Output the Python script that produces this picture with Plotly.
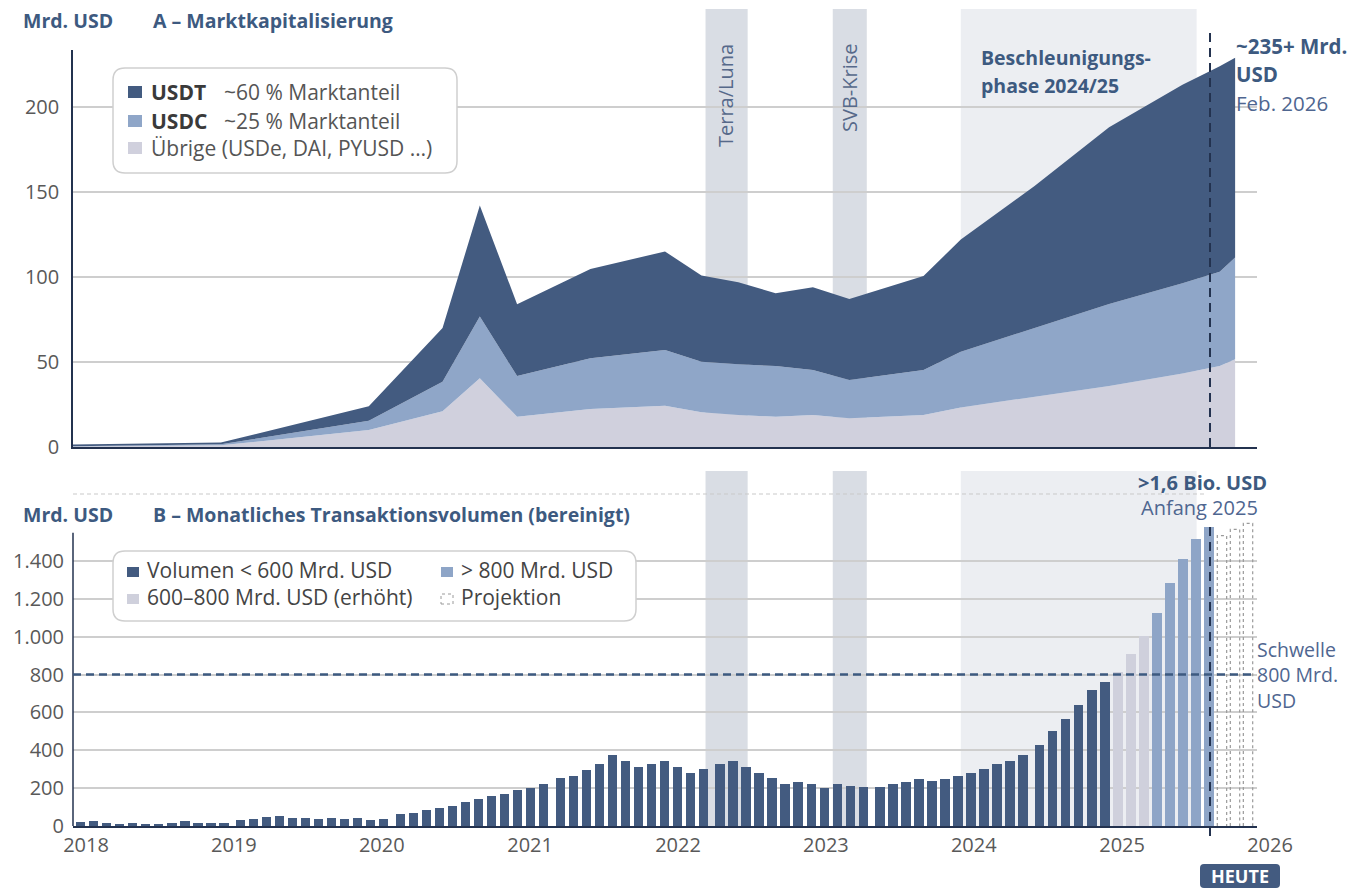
import plotly.graph_objects as go
import pandas as pd

W, H = 1365, 891


def px(x):
    return x / W


def py(y):
    return 1 - y / H


# ---------------- Daten Panel A: Marktkapitalisierung (Mrd. USD) ----------------
mk_datum = ["2018-01-01", "2019-01-01", "2020-01-01", "2020-07-01", "2020-10-01",
            "2021-01-01", "2021-07-01", "2022-01-01", "2022-04-01", "2022-07-01",
            "2022-10-01", "2023-01-01", "2023-04-01", "2023-10-01", "2024-01-01",
            "2024-07-01", "2025-01-01", "2025-07-01", "2025-10-01", "2025-11-08"]
usdt = [1.0, 1.0, 8.5, 31.6, 65.3, 42.2, 52.5, 58.0, 50.6, 48.3,
        42.8, 48.6, 47.6, 55.3, 66.0, 83.7, 103.9, 116.7, 120.9, 117.6]
usdc = [0.1, 0.6, 5.5, 17.4, 36.3, 24.0, 29.8, 32.7, 29.8, 29.8,
        29.8, 26.5, 22.5, 26.5, 32.7, 40.2, 48.2, 53.0, 55.5, 59.8]
uebrige = [0.3, 1.0, 10.0, 21.0, 40.4, 17.8, 22.4, 24.3, 20.4, 18.8,
           17.8, 18.8, 16.9, 18.8, 23.3, 29.6, 35.9, 43.3, 47.6, 51.6]

# ---------------- Daten Panel B: monatliches Volumen (Mrd. USD) ----------------
monate = pd.date_range("2018-01-01", "2025-05-01", freq="MS").strftime("%Y-%m").tolist()
volumen = [
    20, 25, 18, 12, 18, 12, 12, 18, 25, 18, 18, 18,                 # 2018
    32, 37, 46, 51, 44, 44, 37, 44, 37, 44, 32, 37,                 # 2019
    63, 70, 83, 95, 107, 127, 144, 157, 171, 188, 201, 220,         # 2020
    252, 264, 294, 326, 375, 343, 313, 326, 343, 313, 282, 300,     # 2021
    326, 343, 313, 282, 252, 220, 231, 220, 201, 220, 213, 206,     # 2022
    206, 220, 231, 250, 238, 250, 262, 282, 300, 326, 343, 375,     # 2023
    426, 502, 564, 638, 720, 762, 812, 907, 1004, 1127, 1282, 1409,  # 2024
    1515, 1578, 1534, 1567, 1599,                                   # 2025
]
kategorie = (["niedrig"] * 78 + ["erhoeht"] * 3 + ["hoch"] * 5 + ["projektion"] * 3)

y_ticks_a = [0, 50, 100, 150, 200]
y_ticks_b = [0, 200, 400, 600, 800, 1000, 1200, 1400]
jahre = [2018, 2019, 2020, 2021, 2022, 2023, 2024, 2025, 2026]

ereignis_start = ["2022-04-11", "2023-02-19", "2024-01-01"]
ereignis_ende = ["2022-07-24", "2023-05-14", "2025-08-05"]
heute = "2025-09-07"
schwelle = 800

# ---------------- Stil ----------------
C_USDT = "#435b80"
C_USDC = "#8fa6c8"
C_OTHER = "#d0d0dd"
C_LIGHT = "#cfd0dc"
C_BLUE = "#8ea5c7"
AX = "#23324f"
T_BLUE = "#3d5a80"
T_SLATE = "#56698a"
GRID = "#cecece"
TICK = "#595959"
FONT = "Open Sans"
BAND_DARK = "#d9dde4"
BAND_LIGHT = "#eceef2"

fig = go.Figure()

# Panel A: gestapelte Flächen
for name, vals, col in [("Übrige", uebrige, C_OTHER), ("USDC", usdc, C_USDC), ("USDT", usdt, C_USDT)]:
    fig.add_trace(go.Scatter(x=mk_datum, y=vals, name=name, stackgroup="mk", mode="lines",
                             line=dict(width=0), fillcolor=col, xaxis="x", yaxis="y",
                             showlegend=False, hoverinfo="x+y+name"))

# Panel B: Balken auf eigener Index-Achse (mit kleinen Jahreslücken)
GAP = 0.28
BW = 0.72
pos = [i + GAP * min(int(m[:4]) - 2018, 6) for i, m in enumerate(monate)]

for cat, col, name in [("niedrig", C_USDT, "Volumen < 600 Mrd. USD"),
                       ("erhoeht", C_LIGHT, "600–800 Mrd. USD (erhöht)"),
                       ("hoch", C_BLUE, "> 800 Mrd. USD")]:
    idx = [i for i, k in enumerate(kategorie) if k == cat]
    fig.add_trace(go.Bar(x=[pos[i] for i in idx], y=[volumen[i] for i in idx],
                         customdata=[monate[i] for i in idx], name=name,
                         width=BW, marker=dict(color=col, line=dict(width=0)),
                         xaxis="x3", yaxis="y2", showlegend=False,
                         hovertemplate="%{customdata}: %{y}<extra></extra>"))

# Projektion: gestrichelte Umrisse
px_, py_ = [], []
for i, k in enumerate(kategorie):
    if k == "projektion":
        a, b = pos[i] - BW / 2, pos[i] + BW / 2
        px_ += [a, a, b, b, None]
        py_ += [0, volumen[i], volumen[i], 0, None]
fig.add_trace(go.Scatter(x=px_, y=py_, mode="lines", name="Projektion",
                         line=dict(color="#9a9a9a", width=1.2, dash="dot"),
                         xaxis="x3", yaxis="y2", showlegend=False, hoverinfo="skip"))

# ---------------- Shapes ----------------
shapes = []
band_cols = [BAND_DARK, BAND_DARK, BAND_LIGHT]
for s, e, c in zip(ereignis_start, ereignis_ende, band_cols):
    shapes.append(dict(type="rect", xref="x", yref="paper", x0=s, x1=e, y0=py(447), y1=py(9),
                       fillcolor=c, line=dict(width=0), layer="below"))
    shapes.append(dict(type="rect", xref="x2", yref="paper", x0=s, x1=e, y0=py(826), y1=py(471),
                       fillcolor=c, line=dict(width=0), layer="below"))

# separator
shapes.append(dict(type="line", xref="paper", yref="paper", x0=px(73), x1=px(1205), y0=py(494), y1=py(494),
                   line=dict(color="#c9c9c9", width=1, dash="4px,3px"), layer="below"))

# y axis line panel B
shapes.append(dict(type="line", xref="x2 domain", yref="y2", x0=0, x1=0, y0=0, y1=1549,
                   line=dict(color=AX, width=1.5), layer="above"))

# Schwelle
shapes.append(dict(type="line", xref="x2 domain", yref="y2", x0=0, x1=0.995, y0=schwelle, y1=schwelle,
                   line=dict(color=T_BLUE, width=2.5, dash="8px,5px"), layer="above"))

# HEUTE-Linien
shapes.append(dict(type="line", xref="x", yref="paper", x0=heute, x1=heute, y0=py(447), y1=py(33),
                   line=dict(color=AX, width=2, dash="9px,6px"), layer="above"))
shapes.append(dict(type="line", xref="x2", yref="paper", x0=heute, x1=heute, y0=py(836), y1=py(527),
                   line=dict(color=AX, width=2, dash="9px,6px"), layer="above"))


def rrect(x0, y0, x1, y1, r):
    return (f"M {px(x0 + r)},{py(y0)} L {px(x1 - r)},{py(y0)} Q {px(x1)},{py(y0)} {px(x1)},{py(y0 + r)} "
            f"L {px(x1)},{py(y1 - r)} Q {px(x1)},{py(y1)} {px(x1 - r)},{py(y1)} "
            f"L {px(x0 + r)},{py(y1)} Q {px(x0)},{py(y1)} {px(x0)},{py(y1 - r)} "
            f"L {px(x0)},{py(y0 + r)} Q {px(x0)},{py(y0)} {px(x0 + r)},{py(y0)} Z")


# Legend A box
shapes.append(dict(type="path", xref="paper", yref="paper", path=rrect(113, 68, 457, 173, 12),
                   fillcolor="white", line=dict(color="#cfcfcf", width=1.5), layer="above"))
for yc, col in [(92, C_USDT), (121, C_USDC), (148, C_OTHER)]:
    shapes.append(dict(type="rect", xref="paper", yref="paper", x0=px(128), x1=px(142),
                       y0=py(yc + 6), y1=py(yc - 6), fillcolor=col, line=dict(width=0), layer="above"))

# Legend B box
shapes.append(dict(type="path", xref="paper", yref="paper", path=rrect(113, 551, 636, 621, 12),
                   fillcolor="white", line=dict(color="#cfcfcf", width=1.5), layer="above"))
for x0, yc, col in [(127, 572, C_USDT), (127, 599, C_LIGHT), (441, 572, C_BLUE)]:
    shapes.append(dict(type="rect", xref="paper", yref="paper", x0=px(x0), x1=px(x0 + 12),
                       y0=py(yc + 5), y1=py(yc - 5), fillcolor=col, line=dict(width=0), layer="above"))
shapes.append(dict(type="rect", xref="paper", yref="paper", x0=px(441), x1=px(453),
                   y0=py(604), y1=py(594), fillcolor="white",
                   line=dict(color="#9a9a9a", width=1, dash="dot"), layer="above"))

# HEUTE box
shapes.append(dict(type="path", xref="paper", yref="paper", path=rrect(1200, 864, 1280, 888, 4),
                   fillcolor=C_USDT, line=dict(width=0), layer="above"))

# ---------------- Annotations ----------------
ann = []


def txt(x, y, t, size=20, color=T_BLUE, xanchor="left", angle=0, bold=False):
    ann.append(dict(x=px(x), y=py(y), xref="paper", yref="paper", text=(f"<b>{t}</b>" if bold else t),
                    showarrow=False, xanchor=xanchor, yanchor="middle", textangle=angle, align="left",
                    font=dict(family=FONT, size=size, color=color)))


txt(21, 20, "Mrd. USD", 19.5, T_BLUE, bold=True)
txt(151, 20, "A – Marktkapitalisierung", 19.5, T_BLUE, bold=True)
txt(21, 514, "Mrd. USD", 19.5, T_BLUE, bold=True)
txt(151, 514, "B – Monatliches Transaktionsvolumen (bereinigt)", 19.5, T_BLUE, bold=True)

# Legend A
txt(149, 92, "USDT", 21, "#3a3a3a", bold=True)
txt(222, 92, "~60 % Marktanteil", 21, "#555555")
txt(149, 121, "USDC", 21, "#3a3a3a", bold=True)
txt(222, 121, "~25 % Marktanteil", 21, "#555555")
txt(149, 148, "Übrige (USDe, DAI, PYUSD …)", 21, "#555555")

# Legend B
txt(145, 570, "Volumen &lt; 600 Mrd. USD", 21, "#444444")
txt(145, 597, "600–800 Mrd. USD (erhöht)", 21, "#444444")
txt(459, 570, "&gt; 800 Mrd. USD", 21, "#444444")
txt(459, 597, "Projektion", 21, "#444444")

# Ereignisse
txt(726, 96, "Terra/Luna", 20, T_SLATE, xanchor="center", angle=-90)
txt(849, 88, "SVB-Krise", 20, T_SLATE, xanchor="center", angle=-90)
txt(979, 57, "Beschleunigungs-", 19.5, T_BLUE, bold=True)
txt(979, 85, "phase 2024/25", 19.5, T_BLUE, bold=True)

# rechts oben
txt(1234, 46, "~235+ Mrd.", 20.5, T_BLUE, bold=True)
txt(1234, 74, "USD", 20.5, T_BLUE, bold=True)
txt(1234, 103, "Feb. 2026", 20.5, "#4f6690")

# Panel B Hinweise
txt(1202, 482, "&gt;1,6 Bio. USD", 20, T_BLUE, xanchor="center", bold=True)
txt(1199, 508, "Anfang 2025", 20, "#4f6690", xanchor="center")
txt(1255, 675, "Schwelle<br>800 Mrd.<br>USD", 19.5, "#4f6690")
txt(1240, 876, "HEUTE", 18, "white", xanchor="center", bold=True)

tickfont = dict(family=FONT, size=20, color=TICK)

fig.update_layout(
    width=W, height=H, margin=dict(l=0, r=0, t=0, b=0, autoexpand=False),
    paper_bgcolor="white", plot_bgcolor="white",
    separators=",.", showlegend=False, bargap=0,
    font=dict(family=FONT),
    xaxis=dict(domain=[px(73), px(1257)], anchor="y", type="date", automargin=False,
               range=["2018-01-01", "2026-01-01"], showticklabels=False, showgrid=False,
               zeroline=False, showline=True, linecolor=AX, linewidth=2, ticks=""),
    yaxis=dict(domain=[py(447), py(50)], anchor="x", range=[0, 233.5], tickvals=y_ticks_a,
               automargin=False,
               showgrid=True, gridcolor=GRID, gridwidth=1.5, zeroline=False,
               showline=True, linecolor=AX, linewidth=1.5, tickfont=tickfont,
               ticks="", ticklabelstandoff=8),
    xaxis2=dict(domain=[px(73), px(1257)], anchor="y2", type="date", automargin=False,
                range=["2018-01-01", "2026-01-01"],
                tickvals=[f"{j}-01-01" for j in jahre], ticktext=[str(j) for j in jahre],
                ticklabelshift=13, showgrid=False, zeroline=False,
                showline=True, linecolor=AX, linewidth=2, ticks="", tickfont=tickfont),
    yaxis2=dict(domain=[py(826), py(515)], anchor="x2", range=[0, 1643], tickvals=y_ticks_b,
                automargin=False,
                tickformat=",d", showgrid=True, gridcolor=GRID, gridwidth=1.5, zeroline=False,
                showline=False, tickfont=tickfont, ticks="", ticklabelstandoff=8),
    xaxis3=dict(overlaying="x2", anchor="y2", range=[-0.592, 90.37], visible=False, automargin=False),
    shapes=shapes,
    annotations=ann,
)

fig.write_html("out.html", config={"displayModeBar": False},
               post_script="document.body.style.margin='0';document.body.style.overflow='hidden';")
